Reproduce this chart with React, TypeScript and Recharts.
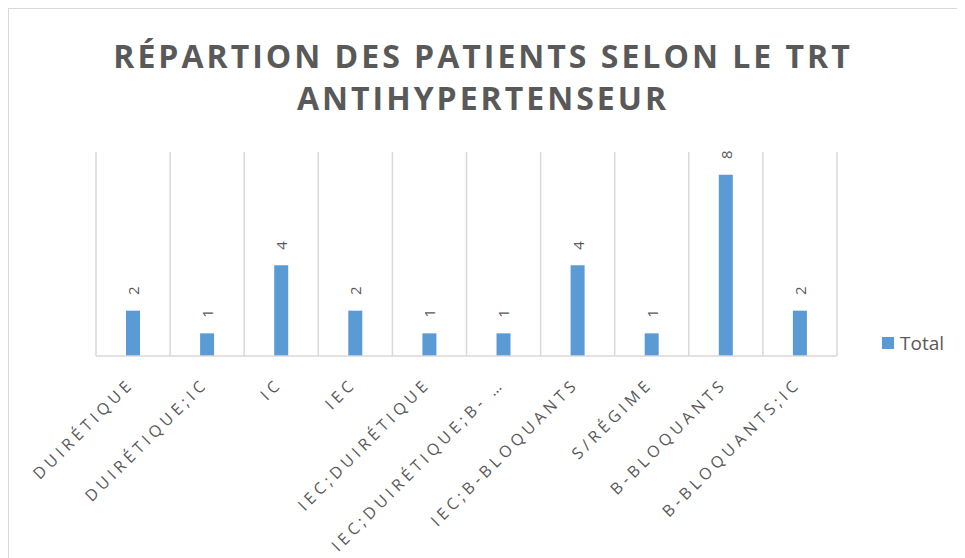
import React from 'react';
import { BarChart, Bar, XAxis, YAxis, CartesianGrid, LabelList, Legend } from 'recharts';

const categories = [
  'DUIRÉTIQUE',
  'DUIRÉTIQUE;IC',
  'IC',
  'IEC',
  'IEC;DUIRÉTIQUE',
  'IEC;DUIRÉTIQUE;B- …',
  'IEC;B-BLOQUANTS',
  'S/RÉGIME',
  'B-BLOQUANTS',
  'B-BLOQUANTS;IC',
];
const totals = [2, 1, 4, 2, 1, 1, 4, 1, 8, 2];
const seriesName = 'Total';
const titleLines = ['RÉPARTION DES PATIENTS SELON LE TRT', 'ANTIHYPERTENSEUR'];

const data = categories.map((c, i) => ({ name: c, Total: totals[i] }));

const FONT = '"Open Sans", "Noto Sans", sans-serif';
const TEXT = '#595959';

const XTick = (props: any) => {
  const { x, y, payload } = props;
  const tx = x + 2;
  const ty = y + 21;
  return (
    <text
      x={tx}
      y={ty}
      transform={`rotate(-45 ${tx} ${ty})`}
      textAnchor="end"
      fill={TEXT}
      fontFamily={FONT}
      fontSize={16}
      letterSpacing={4.2}
    >
      {payload.value}
    </text>
  );
};

const BarLabel = (props: any) => {
  const { x, y, width, value } = props;
  const cx = x + width / 2;
  const cy = y - 20;
  return (
    <text
      x={cx}
      y={cy}
      transform={`rotate(-90 ${cx} ${cy})`}
      textAnchor="middle"
      dominantBaseline="central"
      fill={TEXT}
      fontFamily={FONT}
      fontSize={15}
    >
      {value}
    </text>
  );
};

const LegendContent = () => (
  <div style={{ display: 'flex', alignItems: 'center', fontFamily: FONT, fontSize: 19, color: TEXT }}>
    <span style={{ display: 'inline-block', width: 12, height: 12, background: '#5B9BD5', marginRight: 6 }} />
    <span>{seriesName}</span>
  </div>
);

export default function App() {
  return (
    <div
      style={{
        position: 'relative',
        width: 957,
        height: 550,
        borderTop: '1px solid #d9d9d9',
        borderLeft: '1px solid #d9d9d9',
        background: '#fff',
      }}
    >
      <div
        style={{
          position: 'absolute',
          left: 0,
          top: 26,
          width: 948,
          textAlign: 'center',
          fontFamily: FONT,
          fontWeight: 700,
          fontSize: 32,
          letterSpacing: 3,
          lineHeight: '42px',
          color: TEXT,
        }}
      >
        {titleLines.map((l) => (
          <div key={l}>{l}</div>
        ))}
      </div>
      <BarChart
        width={956}
        height={549}
        data={data}
        margin={{ top: 143, right: 128, bottom: 22, left: 87 }}
      >
        <CartesianGrid
          horizontal={false}
          stroke="#d9d9d9"
          strokeWidth={1.5}
          verticalCoordinatesGenerator={({ offset }: any) =>
            categories.map((_, i) => offset.left + (i * offset.width) / categories.length).concat([offset.left + offset.width])
          }
        />
        <XAxis
          dataKey="name"
          height={180}
          interval={0}
          tickLine={false}
          axisLine={{ stroke: '#d9d9d9', strokeWidth: 1.5 }}
          tick={<XTick />}
        />
        <YAxis hide domain={[0, 9]} />
        <Legend
          layout="horizontal"
          align="center"
          verticalAlign="middle"
          content={<LegendContent />}
          wrapperStyle={{ left: 873, top: 321, width: 'auto' }}
        />
        <Bar dataKey="Total" name={seriesName} fill="#5B9BD5" barSize={14} isAnimationActive={false}>
          <LabelList dataKey="Total" content={<BarLabel />} />
        </Bar>
      </BarChart>
    </div>
  );
}
